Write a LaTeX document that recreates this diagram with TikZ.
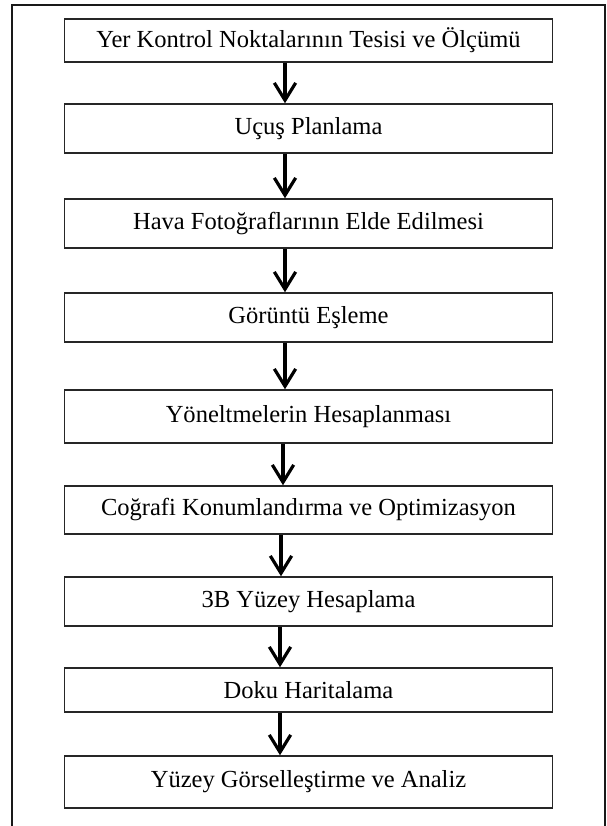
\documentclass[tikz,border=0pt]{standalone}
\usepackage{fontspec}
\setmainfont{Liberation Serif}
\usetikzlibrary{arrows.meta}
\begin{document}
\begin{tikzpicture}[x=0.75pt,y=-0.75pt,
  stepbox/.style={draw=black!85, line width=1.1pt, rectangle, inner sep=0pt,
    minimum width=366pt, font=\fontsize{18.4}{22}\selectfont},
  arr/.style={line width=2.3pt, -{Straight Barb[length=13pt,width=16pt,line width=2.4pt]}},
  frame/.style={line width=1.5pt, draw=black!90}]
\useasboundingbox (0,0) rectangle (607,826);
\draw[frame] (12,832) -- (12,5) -- (605,5) -- (605,832);
\node[stepbox, minimum height=32.25pt] (b1) at (308.5,40.5) {Yer Kontrol Noktalarının Tesisi ve Ölçümü};
\node[stepbox, minimum height=36.75pt] (b2) at (308.5,128.5) {Uçuş Planlama};
\node[stepbox, minimum height=36.75pt] (b3) at (308.5,223.5) {Hava Fotoğraflarının Elde Edilmesi};
\node[stepbox, minimum height=36.75pt] (b4) at (308.5,317.5) {Görüntü Eşleme};
\node[stepbox, minimum height=39.75pt] (b5) at (308.5,416.5) {Yöneltmelerin Hesaplanması};
\node[stepbox, minimum height=36pt] (b6) at (308.5,510) {Coğrafi Konumlandırma ve Optimizasyon};
\node[stepbox, minimum height=36.75pt] (b7) at (308.5,601.5) {3B Yüzey Hesaplama};
\node[stepbox, minimum height=33pt] (b8) at (308.5,690) {Doku Haritalama};
\node[stepbox, minimum height=39pt] (b9) at (308.5,782) {Yüzey Görselleştirme ve Analiz};
\draw[arr] (b1.south -| 285,0) -- (b2.north -| 285,0);
\draw[arr] (b2.south -| 285,0) -- (b3.north -| 285,0);
\draw[arr] (b3.south -| 285,0) -- (b4.north -| 285,0);
\draw[arr] (b4.south -| 285,0) -- (b5.north -| 285,0);
\draw[arr] (b5.south -| 283,0) -- (b6.north -| 283,0);
\draw[arr] (b6.south -| 281,0) -- (b7.north -| 281,0);
\draw[arr] (b7.south -| 280,0) -- (b8.north -| 280,0);
\draw[arr] (b8.south -| 280,0) -- (b9.north -| 280,0);
\end{tikzpicture}
\end{document}
